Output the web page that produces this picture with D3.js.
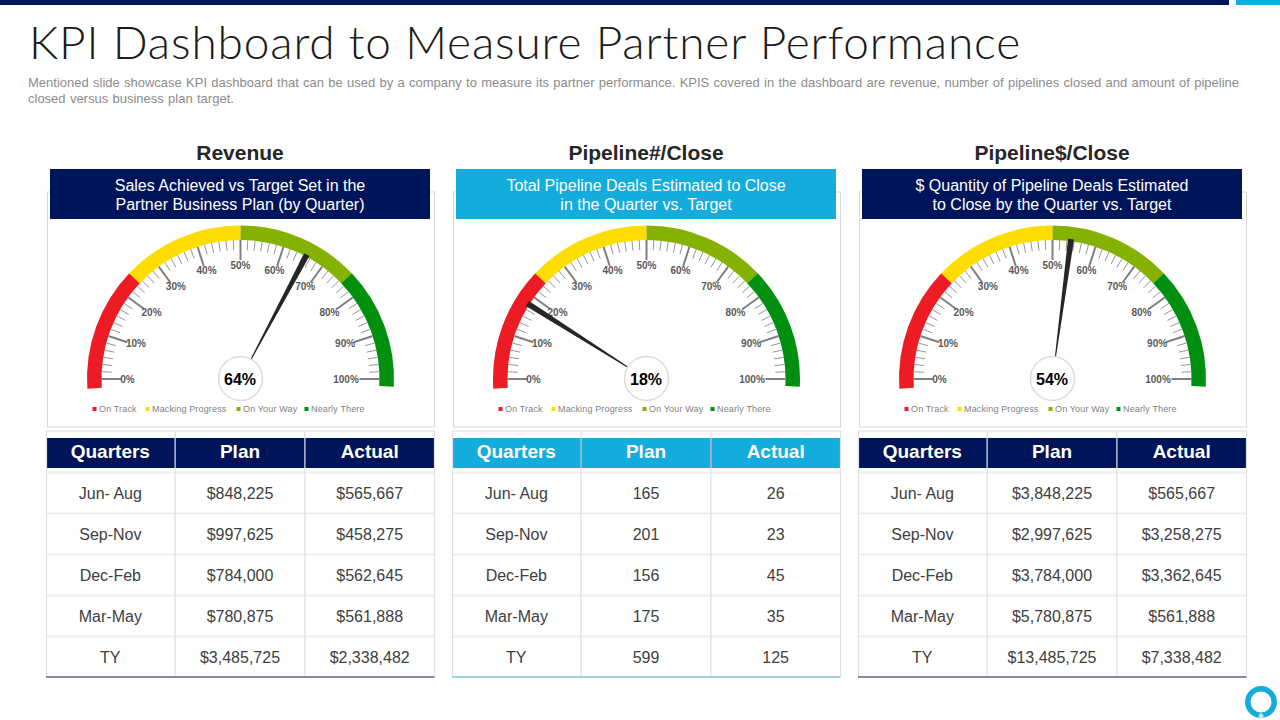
<!DOCTYPE html>
<html>
<head>
<meta charset="utf-8">
<script src="https://cdn.jsdelivr.net/npm/d3@7"></script>
<style>
  html, body { margin: 0; padding: 0; background: #fff; overflow: hidden; }
  text { font-family: "Liberation Sans", Arial, sans-serif; }
</style>
</head>
<body>
<div class="diagram"></div>
<script>
// values
const panelTitles = ["Revenue", "Pipeline#/Close", "Pipeline$/Close"];
const bannerLines = [
  ["Sales Achieved vs Target Set in the", "Partner Business Plan (by Quarter)"],
  ["Total Pipeline Deals Estimated to Close", "in the Quarter vs. Target"],
  ["$ Quantity  of Pipeline Deals Estimated", "to Close by the Quarter vs. Target"]
];
const needleValues = [65.6, 18, 54.2];
const readouts = ["64%", "18%", "54%"];
const bandNames = ["On Track", "Macking Progress", "On Your Way", "Nearly There"];
const bandStops = [-2, 24.2, 50, 75.8, 101.6];
const majorTicks = [0, 10, 20, 30, 40, 50, 60, 70, 80, 90, 100];
const columns = ["Quarters", "Plan", "Actual"];
const quarters = ["Jun- Aug", "Sep-Nov", "Dec-Feb", "Mar-May", "TY"];
const revenuePlan = ["$848,225", "$997,625", "$784,000", "$780,875", "$3,485,725"];
const revenueActual = ["$565,667", "$458,275", "$562,645", "$561,888", "$2,338,482"];
const dealsPlan = ["165", "201", "156", "175", "599"];
const dealsActual = ["26", "23", "45", "35", "125"];
const amountPlan = ["$3,848,225", "$2,997,625", "$3,784,000", "$5,780,875", "$13,485,725"];
const amountActual = ["$565,667", "$3,258,275", "$3,362,645", "$561,888", "$7,338,482"];

const plans = [revenuePlan, dealsPlan, amountPlan];
const actuals = [revenueActual, dealsActual, amountActual];

const w = 1280,
      h = 720,
      navy = "#00145a",
      cyan = "#14acdc",
      bandColors = ["#ed1c24", "#ffdd00", "#85b200", "#008f0f"],
      accent = [navy, cyan, navy],
      underline = ["#5a6288", "#7cc4de", "#5a6288"],
      legendX = [-148, -95, -4, 64],
      rOuter = 153.5,
      rInner = 139,
      svg = d3.select(".diagram")
      .append("svg")
      .attr("width", w)
      .attr("height", h)
      .style("display", "block");

// header strip
svg.append("rect").attr("width", 1229).attr("height", 5).attr("fill", navy);
svg.append("rect").attr("x", 1236).attr("width", 44).attr("height", 5).attr("fill", cyan);

const heading = svg.append("text")
  .attr("x", 29)
  .attr("y", 59)
  .attr("font-size", 46)
  .attr("font-weight", 300)
  .style("font-family", "Lato, sans-serif")
  .attr("fill", "#1a1a1a")
  .text("KPI Dashboard to Measure Partner Performance");
heading.attr("letter-spacing", (992 - heading.node().getComputedTextLength()) / heading.text().length);

const intro = svg.append("text")
  .attr("x", 28)
  .attr("y", 87)
  .attr("font-size", 13)
  .attr("fill", "#8c8c8c")
  .text("Mentioned slide showcase KPI dashboard that can be used by a company to measure its partner performance. KPIS covered in the dashboard are revenue, number of pipelines closed and amount of pipeline");
// stretch the first line the way justified text does
const gaps = intro.text().split(" ").length - 1;
intro.attr("word-spacing", (1211 - intro.node().getComputedTextLength()) / gaps);

svg.append("text")
  .attr("x", 28)
  .attr("y", 103)
  .attr("font-size", 13)
  .attr("fill", "#8c8c8c")
  .attr("word-spacing", 0.7)
  .text("closed versus business plan target.");

const angle = d3.scaleLinear().domain([0, 100]).range([-90, 90]);
const rad = (v) => angle(v) * Math.PI / 180;
const arc = d3.arc().innerRadius(rInner).outerRadius(rOuter);
const polar = (v, r) => [r * Math.sin(rad(v)), -r * Math.cos(rad(v))];

const minorTicks = d3.range(0, 100 + 1e-6, 10 / 6).filter((d) => Math.abs(d / 10 - Math.round(d / 10)) > 1e-6);

// tick labels sit on a slightly flattened ring, the two ends pulled left
const labelX = (d) => polar(d, 110)[0] + (d === 0 ? -3 : d === 100 ? -4.5 : 0);
const labelY = (d) => polar(d, 114)[1] + 3.5;

const xCol = d3.scaleBand().domain(columns).range([45.5, 434.5]);
const yRow = d3.scaleBand().domain(quarters).range([472.5, 677.5]);

panelTitles.forEach((title, i) => {
  const g = svg.append("g").attr("transform", "translate(" + (i * 406) + ",0)");
  const cx = 240.5,
        cy = 379;

  g.append("rect")
    .attr("x", 47.5).attr("y", 192)
    .attr("width", 387).attr("height", 235)
    .attr("fill", "#fff").attr("stroke", "#d9d9d9");

  g.append("text")
    .attr("x", 240).attr("y", 160)
    .attr("text-anchor", "middle")
    .attr("font-size", 21).attr("font-weight", "bold")
    .attr("fill", "#262626")
    .text(title);

  g.append("rect")
    .attr("x", 50).attr("y", 169)
    .attr("width", 380).attr("height", 50)
    .attr("fill", accent[i]);

  g.selectAll(".banner")
    .data(bannerLines[i])
    .enter()
    .append("text")
    .attr("x", 240)
    .attr("y", (d, k) => 190.5 + k * 19.2)
    .attr("text-anchor", "middle")
    .attr("font-size", 16)
    .attr("fill", "#fff")
    .text((d) => d);

  const gauge = g.append("g").attr("transform", "translate(" + cx + "," + cy + ")");

  gauge.selectAll(".band")
    .data(bandColors)
    .enter()
    .append("path")
    .attr("fill", (d) => d)
    .attr("d", (d, k) => arc({ startAngle: rad(bandStops[k]), endAngle: rad(bandStops[k + 1]) }));

  gauge.selectAll(".minor")
    .data(minorTicks)
    .enter()
    .append("line")
    .attr("x1", (d) => polar(d, rInner)[0])
    .attr("y1", (d) => polar(d, rInner)[1])
    .attr("x2", (d) => polar(d, rInner - 10)[0])
    .attr("y2", (d) => polar(d, rInner - 10)[1])
    .attr("stroke", "#969696")
    .attr("stroke-width", 1);

  gauge.selectAll(".major")
    .data(majorTicks)
    .enter()
    .append("line")
    .attr("x1", (d) => polar(d, rInner)[0])
    .attr("y1", (d) => polar(d, rInner)[1])
    .attr("x2", (d) => polar(d, rInner - 20)[0])
    .attr("y2", (d) => polar(d, rInner - 20)[1])
    .attr("stroke", "#7f7f7f")
    .attr("stroke-width", 2);

  gauge.selectAll(".tick-label")
    .data(majorTicks)
    .enter()
    .append("text")
    .attr("x", labelX)
    .attr("y", labelY)
    .attr("text-anchor", "middle")
    .attr("font-size", 10)
    .attr("font-weight", "bold")
    .attr("fill", "#595959")
    .text((d) => d + "%");

  // needle, narrow at the hub and wide at the tip
  gauge.append("path")
    .attr("transform", "rotate(" + angle(needleValues[i]) + ")")
    .attr("d", d3.line()([[-0.5, -21], [-3, -141], [3, -141], [0.5, -21]]))
    .attr("fill", "#262626");

  gauge.append("circle")
    .attr("cy", -0.5)
    .attr("r", 22)
    .attr("fill", "#fff")
    .attr("stroke", "#dcdcdc")
    .attr("stroke-width", 1.5);

  gauge.append("text")
    .attr("x", -0.5)
    .attr("y", 6)
    .attr("text-anchor", "middle")
    .attr("font-size", 16)
    .attr("font-weight", "bold")
    .attr("fill", "#000")
    .text(readouts[i]);

  const legend = g.selectAll(".legend")
    .data(bandNames)
    .enter()
    .append("g")
    .attr("transform", (d, k) => "translate(" + (cx + legendX[k]) + ",409)");
  legend.append("rect")
    .attr("y", -2).attr("width", 4).attr("height", 4)
    .attr("fill", (d, k) => bandColors[k]);
  legend.append("text")
    .attr("x", 6.5).attr("y", 3)
    .attr("font-size", 9)
    .attr("letter-spacing", 0.15)
    .attr("fill", "#7f7f7f")
    .text((d) => d);

  // table
  const table = g.append("g");
  table.append("rect")
    .attr("x", 46).attr("y", 438)
    .attr("width", 388.5).attr("height", 30)
    .attr("fill", accent[i]);

  table.selectAll(".head")
    .data(columns)
    .enter()
    .append("text")
    .attr("x", (d) => xCol(d) + xCol.bandwidth() / 2)
    .attr("y", 458)
    .attr("text-anchor", "middle")
    .attr("font-size", 19)
    .attr("font-weight", "bold")
    .attr("fill", "#fff")
    .text((d) => d);

  table.selectAll(".rule")
    .data([431].concat(yRow.domain().map((d) => yRow(d))))
    .enter()
    .append("line")
    .attr("x1", 46).attr("x2", 434.5)
    .attr("y1", (d) => d).attr("y2", (d) => d)
    .attr("stroke", "#eeeeee")
    .attr("stroke-width", 2);

  table.selectAll(".divider")
    .data(columns.slice(1).map((d) => xCol(d)).concat([46.5, 434.5]))
    .enter()
    .append("line")
    .attr("x1", (d) => d).attr("x2", (d) => d)
    .attr("y1", 431).attr("y2", 677)
    .attr("stroke", "#dfdfe4")
    .attr("stroke-width", 1.2);

  table.selectAll(".head-divider")
    .data(xCol.domain().slice(1))
    .enter()
    .append("line")
    .attr("x1", (d) => xCol(d)).attr("x2", (d) => xCol(d))
    .attr("y1", 438).attr("y2", 468)
    .attr("stroke", "#9aa3c0")
    .attr("stroke-width", 1);

  table.append("line")
    .attr("x1", 46).attr("x2", 434.5)
    .attr("y1", 677).attr("y2", 677)
    .attr("stroke", underline[i])
    .attr("stroke-width", 1.5);

  [quarters, plans[i], actuals[i]].forEach((cells, c) => {
    table.selectAll(".col" + c)
      .data(cells)
      .enter()
      .append("text")
      .attr("x", xCol(columns[c]) + xCol.bandwidth() / 2)
      .attr("y", (d, r) => yRow(quarters[r]) + yRow.bandwidth() / 2 + 5.5)
      .attr("text-anchor", "middle")
      .attr("font-size", 16)
      .attr("fill", "#404040")
      .text((d) => d);
  });
});

// corner mark
svg.append("circle")
  .attr("cx", 1261).attr("cy", 702).attr("r", 13.2)
  .attr("fill", "none").attr("stroke", cyan).attr("stroke-width", 5.5);
svg.append("circle")
  .attr("cx", 1261).attr("cy", 716).attr("r", 2.2)
  .attr("fill", "#fff").attr("stroke", "#8fd3ea").attr("stroke-width", 1);
</script>
</body>
</html>
